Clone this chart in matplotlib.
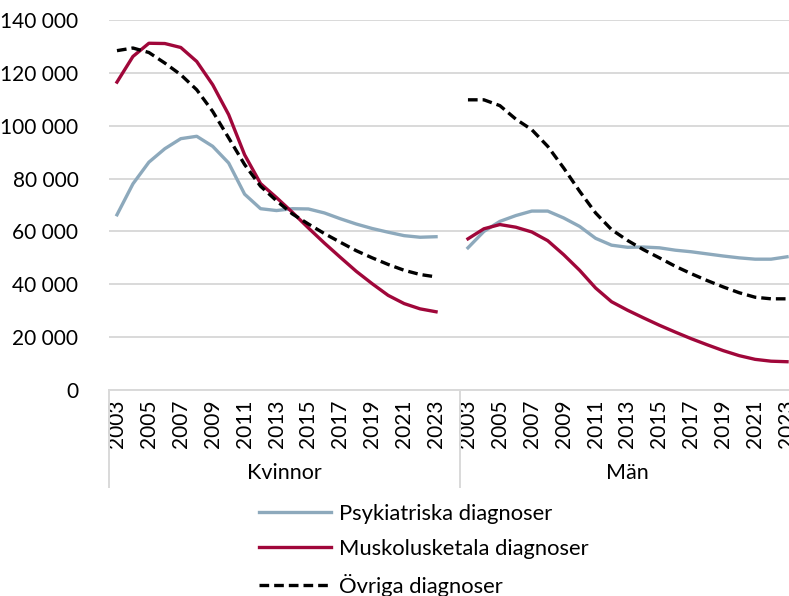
import matplotlib
matplotlib.use("Agg")
import matplotlib.pyplot as plt
import matplotlib.transforms as mtransforms

plt.rcParams['font.family'] = ['Lato', 'DejaVu Sans']
plt.rcParams['font.size'] = 15

years = list(range(2003, 2024))
groups = ["Kvinnor", "Män"]

# Kvinnor
psyk_k = [66300, 78000, 86200, 91300, 95100, 96000, 92200, 85900, 74100, 68600, 67900,
          68600, 68500, 67000, 64800, 62800, 61100, 59700, 58400, 57800, 58000]
musk_k = [116500, 126200, 131200, 131100, 129600, 124300, 115500, 104200, 89000, 78100, 72800,
          67200, 61300, 55600, 50200, 44900, 40200, 35800, 32700, 30700, 29600]
ovr_k = [128400, 129400, 127700, 123700, 119300, 113600, 105400, 95400, 85300, 77100, 71600,
         66600, 62800, 59200, 55900, 52700, 50000, 47500, 45300, 43700, 42800]

# Män
psyk_m = [53800, 60000, 63800, 66000, 67700, 67700, 65100, 61900, 57400, 54800, 54000,
          54100, 53800, 52900, 52300, 51500, 50700, 50000, 49500, 49500, 50400]
musk_m = [57200, 61000, 62600, 61600, 59800, 56500, 51200, 45300, 38600, 33400, 30200,
          27300, 24500, 21900, 19400, 17100, 14900, 13000, 11600, 10900, 10700]
ovr_m = [109800, 109800, 107600, 102500, 98500, 92200, 84000, 75200, 67000, 60700, 56600,
         53100, 50000, 46800, 44000, 41400, 39000, 36800, 35100, 34500, 34500]

W, H = 789, 596
fig = plt.figure(figsize=(W / 100, H / 100), dpi=100)
ax = fig.add_axes([109 / W, (H - 390) / H, (795 - 109) / W, 370 / H])

n = len(years)
xk = list(range(n))
xm = [n + 1 + i for i in range(n)]

blue = "#8DA9BC"
red = "#A0073A"
lw = 2.4

ax.plot(xk, psyk_k, color=blue, lw=lw, label="Psykiatriska diagnoser")
ax.plot(xm, psyk_m, color=blue, lw=lw)
ax.plot(xk, musk_k, color=red, lw=lw, label="Muskolusketala diagnoser")
ax.plot(xm, musk_m, color=red, lw=lw)
l1, = ax.plot(xk, ovr_k, color="black", lw=lw, label="Övriga diagnoser")
l2, = ax.plot(xm, ovr_m, color="black", lw=lw)
for l in (l1, l2):
    l.set_dashes([2.9, 1.5])

ax.set_xlim(-0.5, 2 * n + 0.5)
ax.set_ylim(0, 140000)
ax.set_yticks(range(0, 140001, 20000))
ax.set_yticklabels([f"{v:,}".replace(",", " ") for v in range(0, 140001, 20000)])
ax.yaxis.grid(True, color="#D9D9D9", lw=1.4)
ax.set_axisbelow(True)

ticks = xk[::2] + xm[::2]
labels = [str(y) for y in years[::2]] * 2
ax.set_xticks(ticks)
ax.set_xticklabels(labels, rotation=90, va="top")
ax.tick_params(axis="x", length=0, pad=7)
ax.tick_params(axis="y", length=0, pad=22)

for s in ("top", "right", "left"):
    ax.spines[s].set_visible(False)
ax.spines["bottom"].set_color("#D9D9D9")
ax.spines["bottom"].set_linewidth(1.4)

# group separators and labels
trans = mtransforms.blended_transform_factory(ax.transData, ax.transAxes)
drop = -(487 - 390) / 370
for xs in (-0.5, n + 0.5, 2 * n + 0.5):
    ax.plot([xs, xs], [0, drop], color="#D9D9D9", lw=1.4, transform=trans, clip_on=False)
for g, (a, b) in zip(groups, [(-0.5, n + 0.5), (n + 0.5, 2 * n + 0.5)]):
    ax.text((a + b) / 2, -(473 - 390) / 370, g, transform=trans, ha="center", va="center",
            fontsize=15.5)

leg = ax.legend(loc="upper left", bbox_to_anchor=(259 / W, 1 - 504 / H),
                bbox_transform=fig.transFigure, frameon=False, fontsize=15.8,
                handlelength=3.3, handletextpad=0.35, labelspacing=0.68,
                borderpad=0, borderaxespad=0)

fig.savefig("out.png", dpi=100)
